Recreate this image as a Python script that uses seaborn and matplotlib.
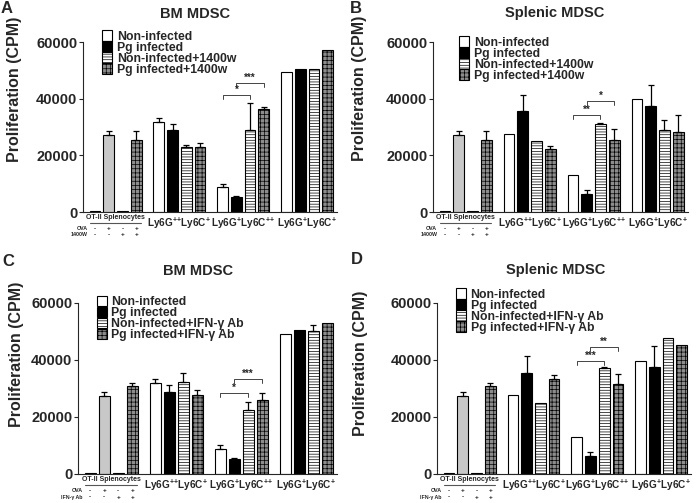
import numpy as np
import pandas as pd
import seaborn as sns
import matplotlib.pyplot as plt
from matplotlib.patches import Patch
import matplotlib.transforms as mtransforms

sns.set_style("ticks")
plt.rcParams["font.family"] = ["Liberation Sans", "DejaVu Sans"]
plt.rcParams["font.weight"] = "bold"
plt.rcParams["axes.labelweight"] = "bold"
plt.rcParams["mathtext.fontset"] = "custom"
plt.rcParams["mathtext.rm"] = "Liberation Sans:bold"
plt.rcParams["mathtext.bf"] = "Liberation Sans:bold"
plt.rcParams["hatch.linewidth"] = 0.5

groups = ["OT-II", "Ly6G++Ly6C+", "Ly6G+Ly6C++", "Ly6G+Ly6C+"]
group_labels = ["",
                r"$\mathbf{Ly6G^{+{+}}Ly6C^{+}}$",
                r"$\mathbf{Ly6G^{+}Ly6C^{+{+}}}$",
                r"$\mathbf{Ly6G^{+}Ly6C^{+}}$"]
conds = ["c0", "c1", "c2", "c3"]
legend_1400w = ["Non-infected", "Pg infected", "Non-infected+1400w", "Pg infected+1400w"]
legend_ifn = ["Non-infected", "Pg infected", "Non-infected+IFN-\u03b3 Ab", "Pg infected+IFN-\u03b3 Ab"]
ova_signs = ["-", "+", "-", "+"]
treat_signs = ["-", "-", "+", "+"]

# values [group][condition]
A_vals = [[200, 27200, 200, 25500], [31800, 28800, 23100, 22900],
          [8800, 5300, 29000, 36300], [49300, 50500, 50500, 57200]]
A_err = [[0, 1300, 0, 3000], [1500, 2200, 700, 1400],
         [1200, 200, 9500, 600], [0, 0, 0, 0]]
B_vals = [[200, 27200, 200, 25500], [27600, 35500, 25100, 22100],
          [12900, 6500, 30900, 25500], [39800, 37400, 28800, 28400]]
B_err = [[0, 1300, 0, 3000], [0, 5900, 0, 1100],
         [0, 1100, 500, 3900], [0, 7600, 3500, 5800]]
C_vals = [[200, 27300, 200, 30900], [31900, 28900, 32300, 27800],
          [8900, 5300, 22300, 26000], [49200, 50500, 50200, 53100]]
C_err = [[0, 1300, 0, 900], [1400, 2200, 3100, 1600],
         [1200, 200, 3000, 2500], [0, 0, 2200, 0]]
D_vals = [[200, 27300, 200, 30900], [27600, 35500, 24800, 33300],
          [13100, 6400, 37200, 31400], [39700, 37700, 47700, 45300]]
D_err = [[0, 1300, 0, 900], [0, 5800, 0, 1600],
         [0, 1200, 400, 3800], [0, 7300, 0, 0]]

# significance brackets: (cond_from, cond_to, height, label) in group 2
A_sig = [(0, 2, 41200, "*"), (1, 3, 45500, "***")]
B_sig = [(0, 2, 34100, "**"), (1, 3, 39100, "*")]
C_sig = [(0, 2, 28400, "*"), (1, 3, 33300, "***")]
D_sig = [(0, 2, 39500, "***"), (1, 3, 44500, "**")]

face = ["white", "black", "white", "#8c8c8c"]
hatches = [None, None, "------", "++++"]

panels = [
    dict(letter="A", title="BM MDSC", vals=A_vals, err=A_err, sig=A_sig, leg=legend_1400w, treat="1400W",
         rect=[0.1193, 0.5785, 0.365, 0.338], leg_xy=(0.1466, 0.940), title_xy=(195, 14),
         letter_xy=(1, 1), ylab=(-0.24, 0.72)),
    dict(letter="B", title="Splenic MDSC", vals=B_vals, err=B_err, sig=B_sig, leg=legend_1400w, treat="1400W",
         rect=[0.622, 0.5785, 0.366, 0.338], leg_xy=(0.6595, 0.928), title_xy=(555, 13),
         letter_xy=(350, 1), ylab=(-0.26, 0.73)),
    dict(letter="C", title="BM MDSC", vals=C_vals, err=C_err, sig=C_sig, leg=legend_ifn, treat="IFN-\u03b3 Ab",
         rect=[0.112, 0.0577, 0.372, 0.34], leg_xy=(0.139, 0.412), title_xy=(198, 271),
         letter_xy=(2, 254), ylab=(-0.21, 0.70)),
    dict(letter="D", title="Splenic MDSC", vals=D_vals, err=D_err, sig=D_sig, leg=legend_ifn, treat="IFN-\u03b3 Ab",
         rect=[0.628, 0.0577, 0.365, 0.34], leg_xy=(0.655, 0.427), title_xy=(556, 270),
         letter_xy=(351, 252), ylab=(-0.27, 0.65)),
]

W, H = 696, 503
fig = plt.figure(figsize=(W / 100, H / 100), dpi=100)

for p in panels:
    ax = fig.add_axes(p["rect"])
    df = pd.DataFrame([(groups[g], conds[c], p["vals"][g][c], p["err"][g][c])
                       for g in range(4) for c in range(4)],
                      columns=["group", "cond", "cpm", "err"])
    sns.barplot(data=df, x="group", y="cpm", hue="cond", order=groups, hue_order=conds,
                palette=face, errorbar=None, width=0.86, gap=0.22, legend=False,
                edgecolor="black", linewidth=0.8, ax=ax)

    centers = np.zeros((4, 4))
    for c, cont in enumerate(ax.containers):
        for g, bar in enumerate(cont):
            bar.set_edgecolor("black")
            if hatches[c]:
                bar.set_hatch(hatches[c])
            if g == 0 and c == 1:
                bar.set_facecolor("#c8c8c8")
            centers[g, c] = bar.get_x() + bar.get_width() / 2

    for c in range(4):
        x = centers[:, c]
        y = np.array([p["vals"][g][c] for g in range(4)])
        e = np.array([p["err"][g][c] for g in range(4)])
        m = e > 0
        ax.errorbar(x[m], y[m], yerr=[np.zeros(m.sum()), e[m]], fmt="none",
                    ecolor="black", elinewidth=0.9, capsize=2.2, capthick=0.9)

    for c1, c2, h, lab in p["sig"]:
        x1, x2 = centers[2, c1], centers[2, c2]
        ax.plot([x1, x1, x2, x2], [h - 1300, h, h, h - 1300], color="#444444", lw=0.7)
        ax.text((x1 + x2) / 2, h + 200, lab, ha="center", va="bottom", fontsize=7)

    ax.set_ylim(0, 60000)
    ax.set_xlim(-0.51, 3.47)
    ax.set_yticks([0, 20000, 40000, 60000])
    ax.set_xticks([1, 2, 3])
    ax.set_xticklabels(group_labels[1:], fontsize=7.2)
    ax.tick_params(axis="x", length=0, pad=3)
    ax.tick_params(axis="y", labelsize=10.5, length=3, width=0.8, pad=1)
    ax.set_xlabel("")
    ax.set_ylabel("Proliferation (CPM)", fontsize=11.5)
    ax.yaxis.set_label_coords(*p["ylab"])
    for s in ["left", "bottom"]:
        ax.spines[s].set_linewidth(0.8)
    sns.despine(ax=ax)

    # OT-II group annotation under the axis
    trans = mtransforms.blended_transform_factory(ax.transData, ax.transAxes)
    ax.text(centers[0].mean(), -0.035, "OT-II Splenocytes", transform=trans,
            ha="center", va="center", fontsize=5.0)
    ax.plot([centers[0, 0] - 0.08, centers[0, 3] + 0.08], [-0.065, -0.065], transform=trans,
            color="#555555", lw=0.8, clip_on=False)
    ax.text(centers[0, 0] - 0.12, -0.098, "OVA", transform=trans, ha="right", va="center", fontsize=3.8)
    ax.text(centers[0, 0] - 0.12, -0.135, p["treat"], transform=trans, ha="right", va="center", fontsize=3.8)
    for c in range(4):
        ax.text(centers[0, c], -0.098, ova_signs[c], transform=trans, ha="center", va="center", fontsize=4.5)
        ax.text(centers[0, c], -0.135, treat_signs[c], transform=trans, ha="center", va="center", fontsize=4.5)

    handles = [Patch(facecolor=face[c], edgecolor="black", hatch=hatches[c], linewidth=0.8) for c in range(4)]
    ax.legend(handles, p["leg"], loc="upper left", bbox_to_anchor=p["leg_xy"],
              bbox_transform=fig.transFigure, frameon=False, borderpad=0, borderaxespad=0,
              handlelength=0.85, handleheight=0.95, labelspacing=-0.12, handletextpad=0.35,
              prop={"size": 8.8, "weight": "bold"})

    fig.text(p["title_xy"][0] / W, 1 - p["title_xy"][1] / H, p["title"],
             ha="center", va="center", fontsize=10.5)
    fig.text(p["letter_xy"][0] / W, 1 - p["letter_xy"][1] / H, p["letter"],
             ha="left", va="top", fontsize=12)

fig.savefig("out.png", dpi=100)
